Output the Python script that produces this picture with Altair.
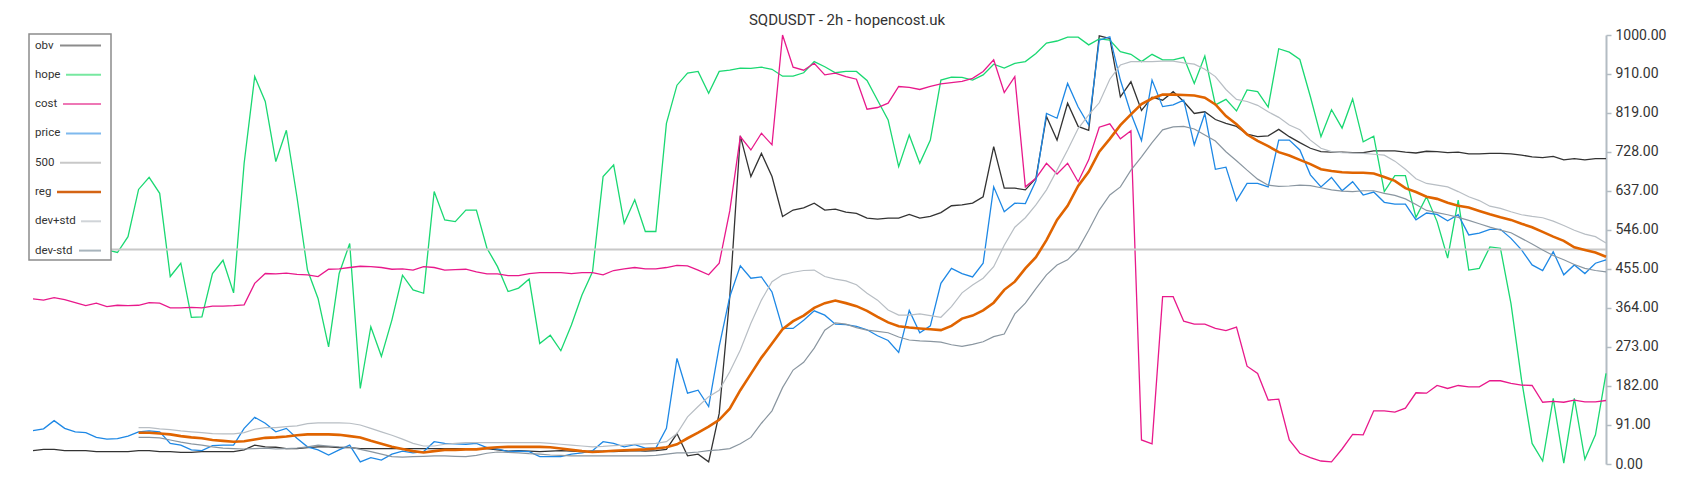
import altair as alt
import pandas as pd

N = 150  # samples along the time axis (one every two 2h candles)

obv = [31,34,34,31,31,31,29,29,29,29,31,31,29,29,27,27,29,29,29,29,33,44,40,
       39,36,36,38,40,40,38,38,36,36,36,36,36,36,36,36,36,36,36,36,36,33,
       30,31,30,29,30,31,30,29,30,30,29,30,31,30,31,
       34,71,19,23,5,118,390,765,670,724,670,577,592,597,608,592,594,587,584,573,571,573,573,582,573,577,586,602,
       604,608,623,740,643,643,639,666,810,755,841,787,778,998,992,856,891,824,855,848,868,845,
       817,821,803,794,787,769,763,765,780,763,749,736,728,727,727,726,726,730,730,730,727,725,
       729,728,726,727,723,723,724,724,723,720,716,714,717,709,712,709,712,712]

hope = [495,505,500,490,510,500,495,499,493,530,640,668,631,437,468,342,343,444,475,399,701,903,845,
        705,778,623,452,386,273,444,514,176,320,251,336,440,406,398,635,569,565,592,592,503,460,
        402,410,431,281,300,264,324,394,448,670,697,561,616,542,542,794,883,911,915,864,915,918,
        923,922,925,920,904,904,912,938,926,912,915,915,894,848,802,693,767,701,755,895,902,
        901,895,907,932,923,934,938,957,981,986,995,995,977,991,988,961,955,938,955,942,942,948,
        887,951,837,850,823,872,868,832,968,960,943,856,763,826,783,851,751,764,635,672,672,575,
        623,565,480,615,452,456,506,503,374,196,48,7,153,2,153,11,68,211]

cost = [385,382,388,383,376,369,375,367,370,369,370,376,375,364,364,365,364,368,368,369,371,421,444,
        443,445,442,441,437,454,455,458,461,460,458,454,455,452,460,458,452,453,454,448,443,443,
        439,439,444,446,446,446,444,446,446,441,451,455,458,455,455,458,463,462,452,441,468,590,
        763,732,771,744,1000,925,918,934,907,911,903,897,827,831,841,880,878,873,880,886,889,
        892,899,915,942,866,903,646,666,701,676,701,658,709,785,793,758,777,56,47,390,390,333,
        326,326,316,311,319,228,211,149,151,56,25,15,7,5,35,69,68,124,124,121,130,166,
        165,183,176,183,180,180,194,194,188,184,183,144,146,144,149,145,145,148]

price = [78,82,101,83,75,73,62,58,59,65,75,77,75,48,44,33,31,43,44,44,83,109,95,
         75,83,60,40,33,21,33,44,5,15,9,23,30,26,29,52,48,47,46,48,38,35,
         29,30,29,17,17,17,23,26,31,52,48,40,45,37,37,83,246,165,172,134,274,390,
         462,433,436,401,316,316,335,357,347,326,325,321,313,299,288,260,358,306,322,421,456,
         444,436,468,646,588,608,607,660,817,806,887,832,790,988,996,895,817,754,895,833,837,848,
         744,817,687,692,614,654,654,646,755,755,732,674,646,668,637,658,627,634,610,606,606,569,
         585,582,567,581,534,538,547,547,526,499,464,451,495,441,464,444,468,476]

level_500 = [500, 500]

REG_START = 10  # the rolling series begin after a warm-up window
reg = [73,73,71,69,65,62,60,56,54,52,53,57,61,
       62,64,67,69,69,69,68,65,62,54,47,40,35,30,27,30,33,33,34,34,37,39,
       40,40,40,40,39,36,33,30,28,29,31,32,33,34,36,39,46,60,73,87,103,129,
       172,210,248,281,314,333,346,364,375,381,375,368,357,343,330,321,318,316,314,312,322,
       339,346,358,376,406,425,456,482,522,569,602,648,681,728,758,790,815,839,852,861,861,860,
       859,854,838,811,792,768,753,741,727,719,709,699,687,683,680,679,679,677,669,660,643,634,
       623,618,609,602,598,590,582,575,569,560,552,541,530,520,505,499,493,483]

dev_plus = [85,85,82,80,77,75,73,71,70,70,73,81,85,
            85,87,89,94,96,96,96,95,91,83,75,67,58,48,42,42,46,48,50,50,50,50,
            50,50,50,50,48,46,44,42,40,41,43,44,46,47,48,52,71,110,134,157,172,215,
            266,328,382,425,441,447,451,452,437,431,427,418,398,382,359,347,347,350,346,342,367,
            399,417,433,460,510,552,574,604,639,685,732,782,814,842,897,930,938,938,938,939,939,935,
            932,920,903,873,850,845,836,821,808,790,779,755,736,728,726,725,724,722,720,706,687,665,
            654,650,646,635,623,614,601,596,588,581,577,574,566,556,545,536,530,515]

dev_minus = [62,62,61,56,51,47,44,40,37,36,35,36,37,
             35,36,37,40,44,42,40,39,34,29,23,17,16,17,18,19,19,18,17,20,25,28,
             27,26,24,23,21,20,19,19,19,19,19,19,19,19,20,23,26,26,28,31,33,36,
             47,62,95,124,178,219,237,270,312,329,326,318,312,309,306,296,289,287,286,284,278,
             274,279,285,297,303,350,375,409,441,464,476,501,545,592,627,646,685,716,749,779,786,787,
             781,767,753,728,707,685,664,650,647,648,650,649,644,639,636,635,637,637,631,626,618,605,
             591,586,581,575,568,560,552,545,539,526,513,499,486,476,465,456,451,448]

tick_values = [0, 91, 182, 273, 364, 455, 546, 637, 728, 819, 910, 1000]

series_names = ["obv", "hope", "cost", "price", "500", "reg", "dev+std", "dev-std"]
line_colors = ["#333333", "#1ad872", "#e8198b", "#1e88e5", "#c8c8c8", "#e06400", "#b8bec4", "#8a96a0"]
line_widths = [1.3, 1.3, 1.3, 1.3, 2, 2.6, 1.2, 1.2]
legend_colors = ["#8c8c8c", "#77e8a0", "#ee77b5", "#7fb9ee", "#c8c8c8", "#d46414", "#d0d4d8", "#a8b4bc"]

FONT = "Roboto"
W, H = 1573, 429


def frame(values, t=None, start=0):
    if t is None:
        t = list(range(start, start + len(values)))
    return pd.DataFrame({"t": t, "v": values})


series_frames = [
    frame(obv), frame(hope), frame(cost), frame(price),
    frame(level_500, t=[0, N - 1]),
    frame(reg, start=REG_START), frame(dev_plus, start=REG_START), frame(dev_minus, start=REG_START),
]

x_enc = alt.X("t:Q", scale=alt.Scale(domain=[0, N - 1], nice=False, zero=False), axis=None)
y_enc = alt.Y(
    "v:Q",
    scale=alt.Scale(domain=[0, 1000], nice=False, zero=True),
    axis=alt.Axis(
        orient="right", values=tick_values, format=".2f", grid=False, title=None,
        labelFont=FONT, labelFontSize=14, labelColor="#333333", labelPadding=4,
        domainColor="#b3bcc3", domainWidth=2, tickColor="#b3bcc3", tickWidth=1.5, tickSize=5,
    ),
)

layers = []
for name, df, col, w in zip(series_names, series_frames, line_colors, line_widths):
    layers.append(
        alt.Chart(df).mark_line(color=col, strokeWidth=w, interpolate="linear").encode(x=x_enc, y=y_enc)
    )

# legend box (top-left, opaque)
box = alt.Chart(pd.DataFrame({"a": [0]})).mark_rect(
    fill="white", stroke="#8c8c8c", strokeWidth=1.5
).encode(x=alt.value(-4), x2=alt.value(78), y=alt.value(-1), y2=alt.value(225))
layers.append(box)

sym_start = [27, 33, 30, 33, 27, 24, 48, 46]
sym_width = [2, 2, 2, 2, 2, 2.6, 2, 2]
for i, name in enumerate(series_names):
    yy = 10.5 + 29.3 * i
    one = pd.DataFrame({"a": [0]})
    layers.append(
        alt.Chart(one).mark_text(
            text=name, align="left", baseline="middle", font=FONT, fontSize=11.5, color="#333333"
        ).encode(x=alt.value(2), y=alt.value(yy))
    )
    layers.append(
        alt.Chart(one).mark_rule(color=legend_colors[i], strokeWidth=sym_width[i]).encode(
            x=alt.value(sym_start[i]), x2=alt.value(68), y=alt.value(yy)
        )
    )

chart = (
    alt.layer(*layers)
    .properties(
        width=W,
        height=H,
        title=alt.TitleParams(
            "SQDUSDT - 2h - hopencost.uk", font=FONT, fontSize=15, fontWeight="normal",
            color="#333333", anchor="middle", frame="bounds", offset=0,
        ),
        autosize=alt.AutoSizeParams(type="none"),
        padding={"left": 25, "top": 27, "right": 80, "bottom": 20},
    )
    .configure_view(stroke=None)
)

chart.save("out.html", embed_options={"renderer": "svg", "actions": False})
